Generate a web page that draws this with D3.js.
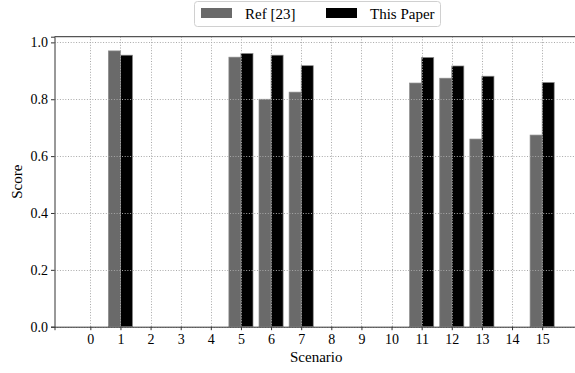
<!DOCTYPE html>
<html><head><meta charset="utf-8">
<script src="https://cdn.jsdelivr.net/npm/d3@7"></script>
<style>body{margin:0;background:#fff}svg{display:block}svg text{font-family:"Liberation Serif","Times New Roman",serif !important}</style>
</head><body><svg id="c" width="575" height="373"></svg>
<script>
const scenarios = [0,1,2,3,4,5,6,7,8,9,10,11,12,13,14,15];
const refValues = [0,0.970,0,0,0,0.948,0.800,0.825,0,0,0,0.857,0.874,0.660,0,0.674];
const paperValues = [0,0.955,0,0,0,0.961,0.955,0.918,0,0,0,0.947,0.917,0.881,0,0.859];
const yTicks = [0,0.2,0.4,0.6,0.8,1.0];
const seriesNames = ["Ref [23]","This Paper"];
const colors = ["#6a6a6a","#000000"];

const svg = d3.select("#c");
const x = d3.scaleLinear().domain([-1.19,16.19]).range([54.5,578]);
const y = d3.scaleLinear().domain([0,1.02]).range([326.7,36.7]);
const bw = x(0.4)-x(0);

const g = svg.append("g");
const series = [refValues, paperValues];
series.forEach((vals,si)=>{
  g.selectAll(".b"+si).data(scenarios.map((s,i)=>({s,v:vals[i]})).filter(d=>d.v>0))
   .enter().append("rect")
   .attr("x",d=> si===0 ? x(d.s-0.4) : x(d.s))
   .attr("width",bw)
   .attr("y",d=>y(d.v))
   .attr("height",d=>y(0)-y(d.v))
   .attr("fill",colors[si])
   .attr("stroke","#8a8a8a").attr("stroke-width",0.7);
});
const grid = svg.append("g").attr("stroke","#a8a8a8").attr("stroke-width",1).attr("stroke-dasharray","1,1.7");
yTicks.forEach(t=>grid.append("line").attr("x1",54.5).attr("x2",575).attr("y1",Math.round(y(t))+0.5).attr("y2",Math.round(y(t))+0.5));
scenarios.forEach(s=>grid.append("line").attr("y1",36.7).attr("y2",326.7).attr("x1",Math.round(x(s))+0.5).attr("x2",Math.round(x(s))+0.5));

const xAxis = d3.axisBottom(x).tickValues(scenarios).tickFormat(d3.format("d")).tickSizeOuter(0).tickSize(3.5).tickPadding(4);
const yAxis = d3.axisLeft(y).tickValues(yTicks).tickFormat(d3.format(".1f")).tickSizeOuter(0).tickSize(3.5).tickPadding(3);
const gx = svg.append("g").attr("transform","translate(0,326.7)").call(xAxis);
const gy = svg.append("g").attr("transform","translate(54.5,0)").call(yAxis);
[gx,gy].forEach(a=>{
  a.attr("font-family","Liberation Serif").attr("font-size",14);
  a.selectAll("text").style("font-family","'Liberation Serif', serif").style("font-size","14px").attr("fill","#000");
  a.selectAll("line").attr("stroke","#333");
  a.select(".domain").attr("stroke","#333");
});
svg.append("line").attr("x1",54.5).attr("x2",575).attr("y1",36.7).attr("y2",36.7).attr("stroke","#555").attr("stroke-width",1.2);

svg.append("text").attr("x",x(7.5)).attr("y",362).attr("text-anchor","middle").style("font-size","15px").text("Scenario");
svg.append("text").attr("transform","translate(22,181.7) rotate(-90)").attr("text-anchor","middle").style("font-size","15px").text("Score");

const lg = svg.append("g");
lg.append("rect").attr("x",194.5).attr("y",1.5).attr("width",246).attr("height",25).attr("rx",3)
  .attr("fill","#fff").attr("stroke","#d0d0d0");
const lx = [201,326], tx=[245,370];
seriesNames.forEach((n,i)=>{
  lg.append("rect").attr("x",lx[i]).attr("y",8).attr("width",31).attr("height",10).attr("fill",colors[i]);
  lg.append("text").attr("x",tx[i]).attr("y",19).style("font-size","15px").text(n);
});
</script></body></html>
